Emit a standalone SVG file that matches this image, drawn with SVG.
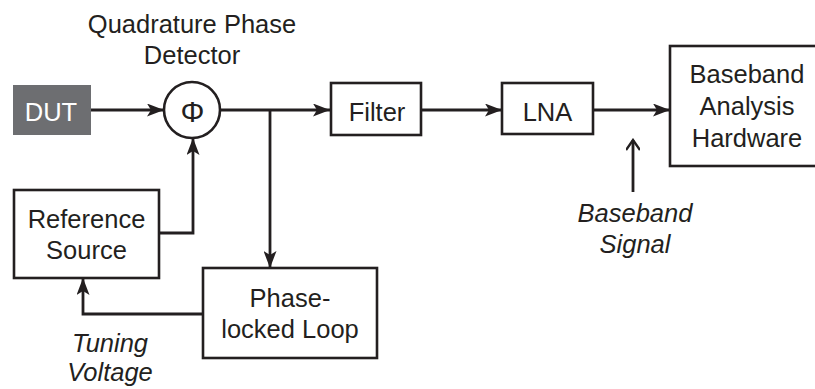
<svg xmlns="http://www.w3.org/2000/svg" width="815" height="389" viewBox="0 0 815 389">
<defs>
<style>
.box{fill:#fff;stroke:#231f20;stroke-width:2.6}
.t{font-family:"Liberation Sans",Arial,sans-serif;font-size:25.5px;fill:#231f20;text-anchor:middle}
.i{font-style:italic}
.w{fill:#fff}
.ln{fill:none;stroke:#231f20;stroke-width:2.8}
</style>
<marker id="ah" viewBox="0 0 17 13" refX="17" refY="6.5" markerWidth="17" markerHeight="13" markerUnits="userSpaceOnUse" orient="auto">
<path d="M0,0 L17,6.5 L0,13 L4,6.5 z" fill="#231f20"/>
</marker>
<marker id="oh" viewBox="0 0 24 14" refX="22" refY="7" markerWidth="24" markerHeight="14" markerUnits="userSpaceOnUse" orient="auto">
<path d="M12,0 L22,7 L12,14" fill="none" stroke="#231f20" stroke-width="2.4"/>
</marker>
</defs>
<rect width="815" height="389" fill="#fff"/>
<g id="connectors">
<line class="ln" x1="91" y1="110" x2="164" y2="110" marker-end="url(#ah)"/>
<polyline class="ln" points="159,233 193,233 193,138" marker-end="url(#ah)"/>
<line class="ln" x1="220" y1="110" x2="330" y2="110" marker-end="url(#ah)"/>
<line class="ln" x1="270" y1="110" x2="270" y2="268" marker-end="url(#ah)"/>
<polyline class="ln" points="203,314 83,314 83,278" marker-end="url(#ah)"/>
<line class="ln" x1="421" y1="110" x2="502" y2="110" marker-end="url(#ah)"/>
<line class="ln" x1="593" y1="110" x2="670" y2="110" marker-end="url(#ah)"/>
<line class="ln" x1="633" y1="192" x2="633" y2="140" marker-end="url(#oh)" stroke-width="2.4"/>
</g>
<g id="detector-label">
<text class="t" x="192" y="33">Quadrature Phase</text>
<text class="t" x="192" y="64">Detector</text>
</g>
<g id="dut">
<rect x="13" y="85" width="78" height="50" fill="#6d6e71"/>
<text class="t w" x="51" y="121">DUT</text>
</g>
<g id="phase-detector">
<circle cx="192" cy="110" r="28" class="box"/>
<text class="t" x="192.5" y="121.5" style="font-size:30px">Φ</text>
</g>
<g id="filter">
<rect class="box" x="331" y="83" width="90" height="52"/>
<text class="t" x="377" y="121">Filter</text>
</g>
<g id="lna">
<rect class="box" x="502" y="83" width="91" height="51"/>
<text class="t" x="547.5" y="121">LNA</text>
</g>
<g id="baseband-hw">
<rect class="box" x="670" y="46" width="160" height="120"/>
<text class="t" x="747" y="83">Baseband</text>
<text class="t" x="747" y="115">Analysis</text>
<text class="t" x="747" y="147">Hardware</text>
</g>
<g id="reference-source">
<rect class="box" x="14" y="190" width="145" height="88"/>
<text class="t" x="86.5" y="228">Reference</text>
<text class="t" x="86.5" y="259">Source</text>
</g>
<g id="pll">
<rect class="box" x="203" y="268" width="174" height="90"/>
<text class="t" x="290" y="307">Phase-</text>
<text class="t" x="290" y="338">locked Loop</text>
</g>
<g id="baseband-signal-label">
<text class="t i" x="635" y="222">Baseband</text>
<text class="t i" x="635" y="253">Signal</text>
</g>
<g id="tuning-voltage-label">
<text class="t i" x="110" y="352">Tuning</text>
<text class="t i" x="110" y="381">Voltage</text>
</g>
</svg>
